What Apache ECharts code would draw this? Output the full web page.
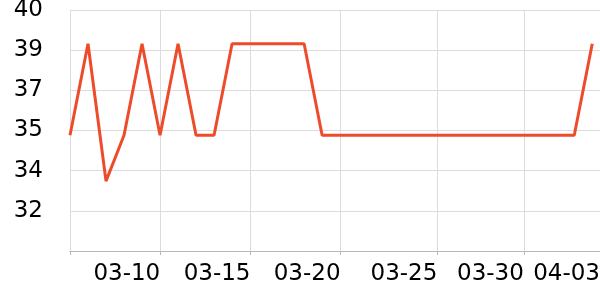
<!DOCTYPE html>
<html>
<head>
<meta charset="utf-8">
<script src="https://cdn.jsdelivr.net/npm/echarts@6/dist/echarts.min.js"></script>
<style>
html,body{margin:0;padding:0;background:#fff;}
#chart{width:600px;height:300px;}
</style>
</head>
<body>
<div id="chart"></div>
<script>
// Data
const dates = [
  '2024-03-05','2024-03-06','2024-03-07','2024-03-08','2024-03-09','2024-03-10',
  '2024-03-11','2024-03-12','2024-03-13','2024-03-14','2024-03-15','2024-03-16',
  '2024-03-17','2024-03-18','2024-03-19','2024-03-20','2024-03-21','2024-03-22',
  '2024-03-23','2024-03-24','2024-03-25','2024-03-26','2024-03-27','2024-03-28',
  '2024-03-29','2024-03-30','2024-03-31','2024-04-01','2024-04-02','2024-04-03'
];
const values = [
  34.8, 38.6, 32.9, 34.8, 38.6, 34.8,
  38.6, 34.8, 34.8, 38.6, 38.6, 38.6,
  38.6, 38.6, 34.8, 34.8, 34.8, 34.8,
  34.8, 34.8, 34.8, 34.8, 34.8, 34.8,
  34.8, 34.8, 34.8, 34.8, 34.8, 38.6
];
// x-axis extent and tick positions (as seen in the reference)
const xMin = '2024-03-05 00:00';
const xMax = '2024-04-03 10:19';
const xTickValues = [
  '2024-03-05 00:00', '2024-03-10 00:15', '2024-03-15 00:30', '2024-03-20 00:30',
  '2024-03-25 09:36', '2024-03-30 04:48', '2024-04-03 10:19'
];
const xLabelValues = xTickValues.slice(1);
const yMin = 30, yMax = 40, ySplits = 6;

const toTime = s => Date.UTC(+s.slice(0,4), +s.slice(5,7) - 1, +s.slice(8,10),
  s.length > 10 ? +s.slice(11,13) : 0, s.length > 10 ? +s.slice(14,16) : 0);
const pad = n => (n < 10 ? '0' : '') + n;
const fmtDate = v => { const d = new Date(v); return pad(d.getUTCMonth() + 1) + '-' + pad(d.getUTCDate()); };
const seriesData = dates.map((d, i) => [toTime(d), values[i]]);

const chart = echarts.init(document.getElementById('chart'), null, {renderer: 'canvas'});
chart.setOption({
  animation: false,
  grid: {left: 70, right: 0, top: 10, bottom: 49, containLabel: false, outerBoundsMode: 'none'},
  xAxis: {
    type: 'value',
    min: toTime(xMin),
    max: toTime(xMax),
    axisLine: {show: true, lineStyle: {color: '#b8b8b8', width: 1}},
    axisTick: {show: true, length: 4, lineStyle: {color: '#b8b8b8'}, customValues: xTickValues.map(toTime)},
    splitLine: {show: true, lineStyle: {color: '#dcdcdc', width: 1}},
    axisLabel: {
      customValues: xLabelValues.map(toTime),
      formatter: v => fmtDate(v),
      align: 'right',
      fontSize: 23,
      fontFamily: 'DejaVu Sans',
      color: '#000',
      margin: 12,
      hideOverlap: false
    }
  },
  yAxis: {
    type: 'value',
    min: yMin,
    max: yMax,
    interval: (yMax - yMin) / ySplits,
    axisLine: {show: false},
    axisTick: {show: false},
    splitLine: {show: true, lineStyle: {color: '#dcdcdc', width: 1}},
    axisLabel: {
      showMinLabel: false,
      formatter: v => String(Math.ceil(v - 1e-9)),
      fontSize: 23,
      fontFamily: 'DejaVu Sans',
      color: '#000',
      margin: 27
    }
  },
  series: [{
    type: 'line',
    data: seriesData,
    showSymbol: false,
    symbol: 'none',
    lineStyle: {color: '#ee4b2b', width: 3},
    itemStyle: {color: '#ee4b2b'}
  }]
});
</script>
</body>
</html>
